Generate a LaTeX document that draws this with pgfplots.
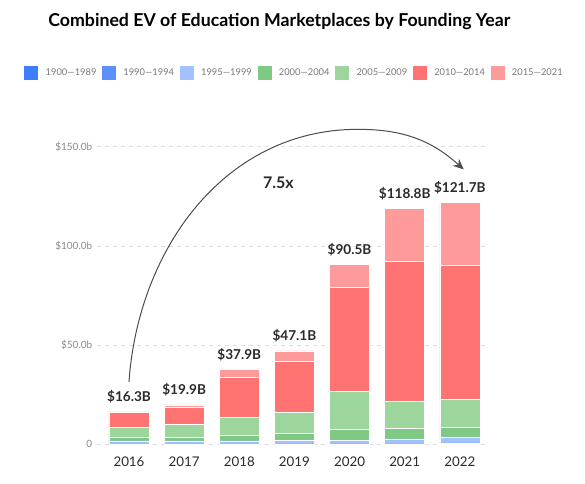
\documentclass[border=0pt]{standalone}
\usepackage{fontspec}
\setmainfont{Lato}
\usepackage{pgfplots}
\usepackage{pgfplotstable}
\pgfplotsset{compat=1.18}
\usetikzlibrary{arrows.meta}
\definecolor{cA}{HTML}{3D7EFF}
\definecolor{cB}{HTML}{5B8FF9}
\definecolor{cC}{HTML}{A3C1FF}
\definecolor{cD}{HTML}{7ECA85}
\definecolor{cE}{HTML}{9DD69D}
\definecolor{cF}{HTML}{FF7373}
\definecolor{cG}{HTML}{FF9A9A}
\definecolor{txt}{HTML}{2A2A2A}
\definecolor{tick}{HTML}{888888}
\definecolor{leg}{HTML}{777777}
\pgfplotstableread{
x c1 c2 c3 c4 c5 c6 c7 top total
0 0 0.2 1.5 2.0 4.8 7.6 0.2 0.001 16.3
1 0 0.2 1.5 1.8 6.7 8.4 1.3 0.001 19.9
2 0 0.2 1.5 2.6 9.3 20.0 4.3 0.001 37.9
3 0 0.2 2.0 3.3 10.6 25.5 5.5 0.001 47.1
4 0 0.2 2.0 5.4 18.9 52.4 11.6 0.001 90.5
5 0 0.2 2.3 5.4 13.6 70.8 26.5 0.001 118.8
6 0.5 0.2 2.8 4.9 14.3 67.6 31.4 0.001 121.7
}\evdata
\begin{document}
\begin{tikzpicture}
\path[use as bounding box] (0,0) rectangle (438.75pt,362.25pt);
\node[font=\bfseries\fontsize{13.3}{13.3}\selectfont, text=black] at (209.5pt,345.75pt) {Combined EV of Education Marketplaces by Founding Year};
\begin{axis}[
  at={(72.75pt,29pt)}, anchor=south west,
  scale only axis, width=293.25pt, height=238.2pt,
  ybar stacked, bar width=30pt,
  xmin=-0.58, xmax=6.51, ymin=0, ymax=160,
  xtick={0,...,6}, xticklabels={2016,2017,2018,2019,2020,2021,2022},
  ytick={0,50,100,150}, yticklabels={0,\$50.0b,\$100.0b,\$150.0b},
  axis line style={draw=none}, major tick length=0pt,
  ymajorgrids, grid style={dashed, black!12, line width=0.5pt},
  clip=false,
  /pgf/number format/assume math mode=true,
  xticklabel style={font=\fontsize{10}{10}\selectfont, text=txt, yshift=-5.5pt},
  yticklabel style={font=\fontsize{7.5}{7.5}\selectfont, text=tick},
  every axis plot/.append style={draw=white, line width=0.5pt},
  legend columns=7,
  legend style={at={(-0.189,1.169)}, anchor=west, draw=none, fill=none, inner sep=0pt,
    font=\fontsize{7}{7}\selectfont, text=leg,
    /tikz/every even column/.append style={column sep=1.5pt}},
  legend image code/.code={\path (0pt,0pt) -- (14.25pt,0pt);\fill[#1] (0pt,-5.6pt) rectangle (11.25pt,5.6pt);},
]
\addplot[fill=cA] table[x=x,y=c1]{\evdata};
\addplot[fill=cB] table[x=x,y=c2]{\evdata};
\addplot[fill=cC] table[x=x,y=c3]{\evdata};
\addplot[fill=cD] table[x=x,y=c4]{\evdata};
\addplot[fill=cE] table[x=x,y=c5]{\evdata};
\addplot[fill=cF] table[x=x,y=c6]{\evdata};
\addplot[fill=cG] table[x=x,y=c7]{\evdata};
\addplot[draw=none, fill=none, point meta=explicit,
  nodes near coords={\$\pgfmathprintnumber[fixed,fixed zerofill,precision=1]{\pgfplotspointmeta}B},
  every node near coord/.append style={anchor=base, inner sep=0pt, yshift=7.5pt, text=txt,
    font=\bfseries\fontsize{10.2}{10.2}\selectfont}]
  table[x=x,y=top,meta=total]{\evdata};
\legend{1900—1989,1990—1994,1995—1999,2000—2004,2005—2009,2010—2014,2015—2021}
\draw[black!70, line width=0.75pt, -{Stealth[length=8pt,width=7pt]}]
  (axis cs:0,31.5) to[out=86,in=180] (axis cs:4.15,158.7) to[out=0,in=138] (axis cs:6.07,138.5);
\node[font=\bfseries\fontsize{12}{12}\selectfont, text=txt] at (axis cs:2.71,132) {7.5x};
\end{axis}
\end{tikzpicture}
\end{document}
